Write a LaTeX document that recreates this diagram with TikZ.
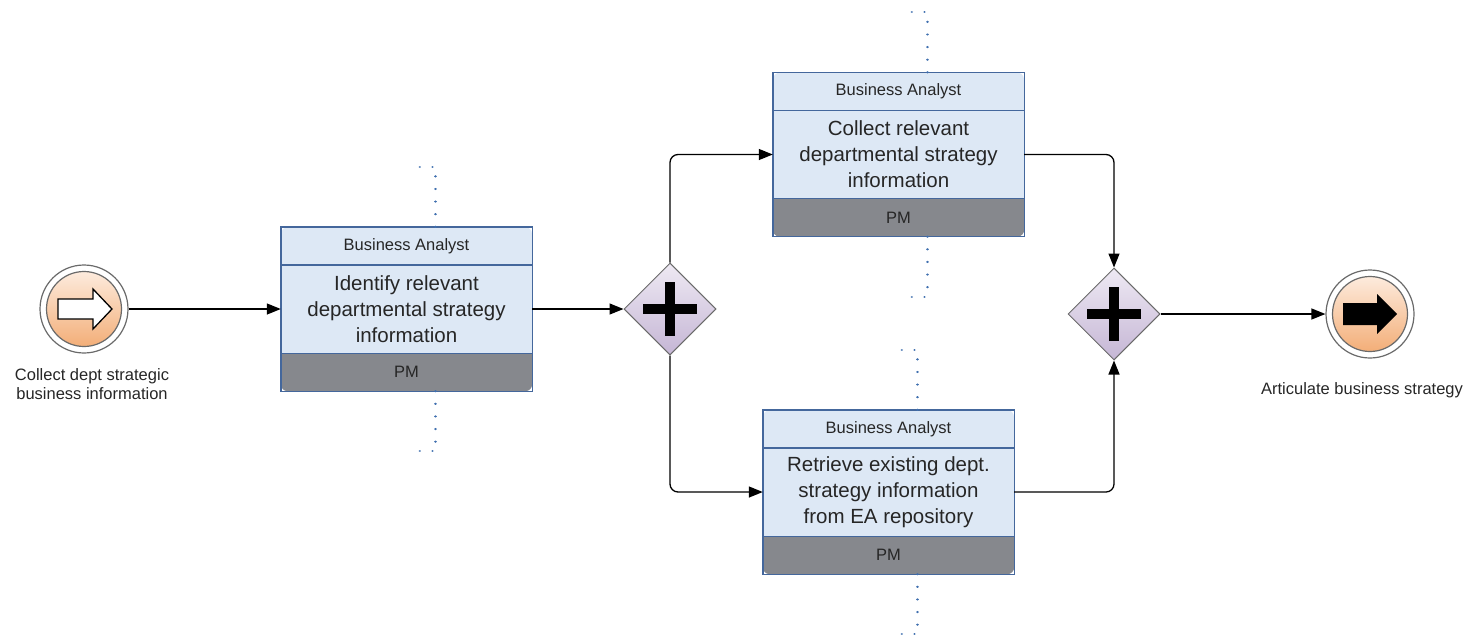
\documentclass[tikz,border=0pt]{standalone}
\usepackage{fontspec}
\setmainfont{Liberation Sans}
\usetikzlibrary{arrows.meta,shapes.geometric,calc}
\definecolor{taskblue}{HTML}{DDE8F5}
\definecolor{taskline}{HTML}{44679C}
\definecolor{pmgray}{HTML}{86888D}
\definecolor{txt}{HTML}{262626}
\definecolor{gwtop}{HTML}{EEE9F3}
\definecolor{gwbot}{HTML}{C5B6D5}
\definecolor{gwline}{HTML}{6A6A6A}
\definecolor{evtop}{HTML}{FDEBDD}
\definecolor{evbot}{HTML}{F3AE78}
\definecolor{assocblue}{HTML}{3F6FAF}
\tikzset{
  flow/.style={line width=1.3pt, black, rounded corners=8pt, -{Triangle[length=14pt,width=11pt]}},
  taskbox/.style={rectangle, fill=taskblue, rounded corners=7pt, inner sep=0pt, minimum width=251pt, minimum height=164pt},
  tline/.style={line width=1.4pt, draw=taskline},
  hdr/.style={font=\fontsize{16.5}{19}\selectfont, text=txt, inner sep=0pt},
  maintxt/.style={font=\fontsize{20.5}{26}\selectfont, text=txt, align=center, inner sep=0pt},
  lbl/.style={font=\fontsize{16.5}{19.5}\selectfont, text=txt, align=center, inner sep=0pt},
  assoc/.style={line width=2.3pt, draw=assocblue, line cap=round, dash pattern=on 0.01pt off 12.6pt},
  gateway/.style={diamond, draw=gwline, line width=1pt, top color=gwtop, bottom color=gwbot, minimum width=92pt, minimum height=92pt, inner sep=0pt},
  evring/.style={circle, draw=gwline, line width=1.2pt, fill=white, minimum size=88pt, inner sep=0pt},
  evcore/.style={circle, draw=gwline, line width=1.2pt, top color=evtop, bottom color=evbot, minimum size=75pt, inner sep=0pt},
}
\newcommand\bpmntask[4]{%
  \node[taskbox] (#1) at (#2,#3) {};
  \begin{scope}
    \clip[rounded corners=7pt] (#1.south west) rectangle (#1.north east);
    \fill[pmgray] (#1.south west) rectangle ([yshift=38pt]#1.south east);
  \end{scope}
  \draw[tline] ([yshift=-38pt]#1.north west) -- ([yshift=-38pt]#1.north east);
  \draw[tline] ([yshift=38pt]#1.south west) -- ([yshift=38pt]#1.south east);
  \draw[tline] (#1.south west) rectangle (#1.north east);
  \node[hdr] (#1-h) at ([yshift=-19pt]#1.north) {Business Analyst};
  \node[maintxt] (#1-m) at (#1.center) {#4};
  \node[hdr] (#1-p) at ([yshift=19pt]#1.south) {PM};
  \draw[assoc] ([xshift=29pt]#1.north) -- ++(0,-60) -- ++(-25,0);
  \draw[assoc] ([xshift=29pt]#1.south) -- ++(0,60) -- ++(-25,0);
}
\begin{document}
\begin{tikzpicture}[x=1pt,y=-1pt]
\useasboundingbox (0,0) rectangle (1472,641);

% start event
\node[evring] (start) at (84,309) {};
\node[evcore] (startc) at (start.center) {};
\draw[line width=1.3pt, fill=white, shift={(start.center)}]
  (-26,-10) -- (9,-10) -- (9,-20) -- (28,0) -- (9,20) -- (9,10) -- (-26,10) -- cycle;
\node[lbl] (startl) at (92,384) {Collect dept strategic\\business information};

% tasks
\bpmntask{t1}{406.5}{309}{Identify relevant\\departmental strategy\\information}
\bpmntask{t2}{898.5}{154.5}{Collect relevant\\departmental strategy\\information}
\bpmntask{t3}{888.5}{492}{Retrieve existing dept.\\strategy information\\from EA repository}

% gateways
\node[gateway] (g1) at (670,309) {};
\fill[black] ($(g1.center)+(-27,-5)$) rectangle ($(g1.center)+(27,5)$);
\fill[black] ($(g1.center)+(-5,-27)$) rectangle ($(g1.center)+(5,27)$);
\node[gateway] (g2) at (1114,314) {};
\fill[black] ($(g2.center)+(-27,-5)$) rectangle ($(g2.center)+(27,5)$);
\fill[black] ($(g2.center)+(-5,-27)$) rectangle ($(g2.center)+(5,27)$);

% end event
\node[evring] (end) at (1370,314) {};
\node[evcore] (endc) at (end.center) {};
\fill[black, shift={(end.center)}]
  (-27,-11) -- (7,-11) -- (7,-20) -- (27,0) -- (7,20) -- (7,11) -- (-27,11) -- cycle;
\node[lbl] (endl) at (1362,390) {Articulate business strategy};

% flows
\draw[flow] (start.east) -- (t1.west);
\draw[flow] (t1.east) -- (g1.west);
\draw[flow] (g1.north) |- (t2.west);
\draw[flow] (g1.south) |- (t3.west);
\draw[flow] (t2.east) -| (g2.north);
\draw[flow] (t3.east) -| (g2.south);
\draw[flow] (g2.east) -- (end.west);
\end{tikzpicture}
\end{document}
